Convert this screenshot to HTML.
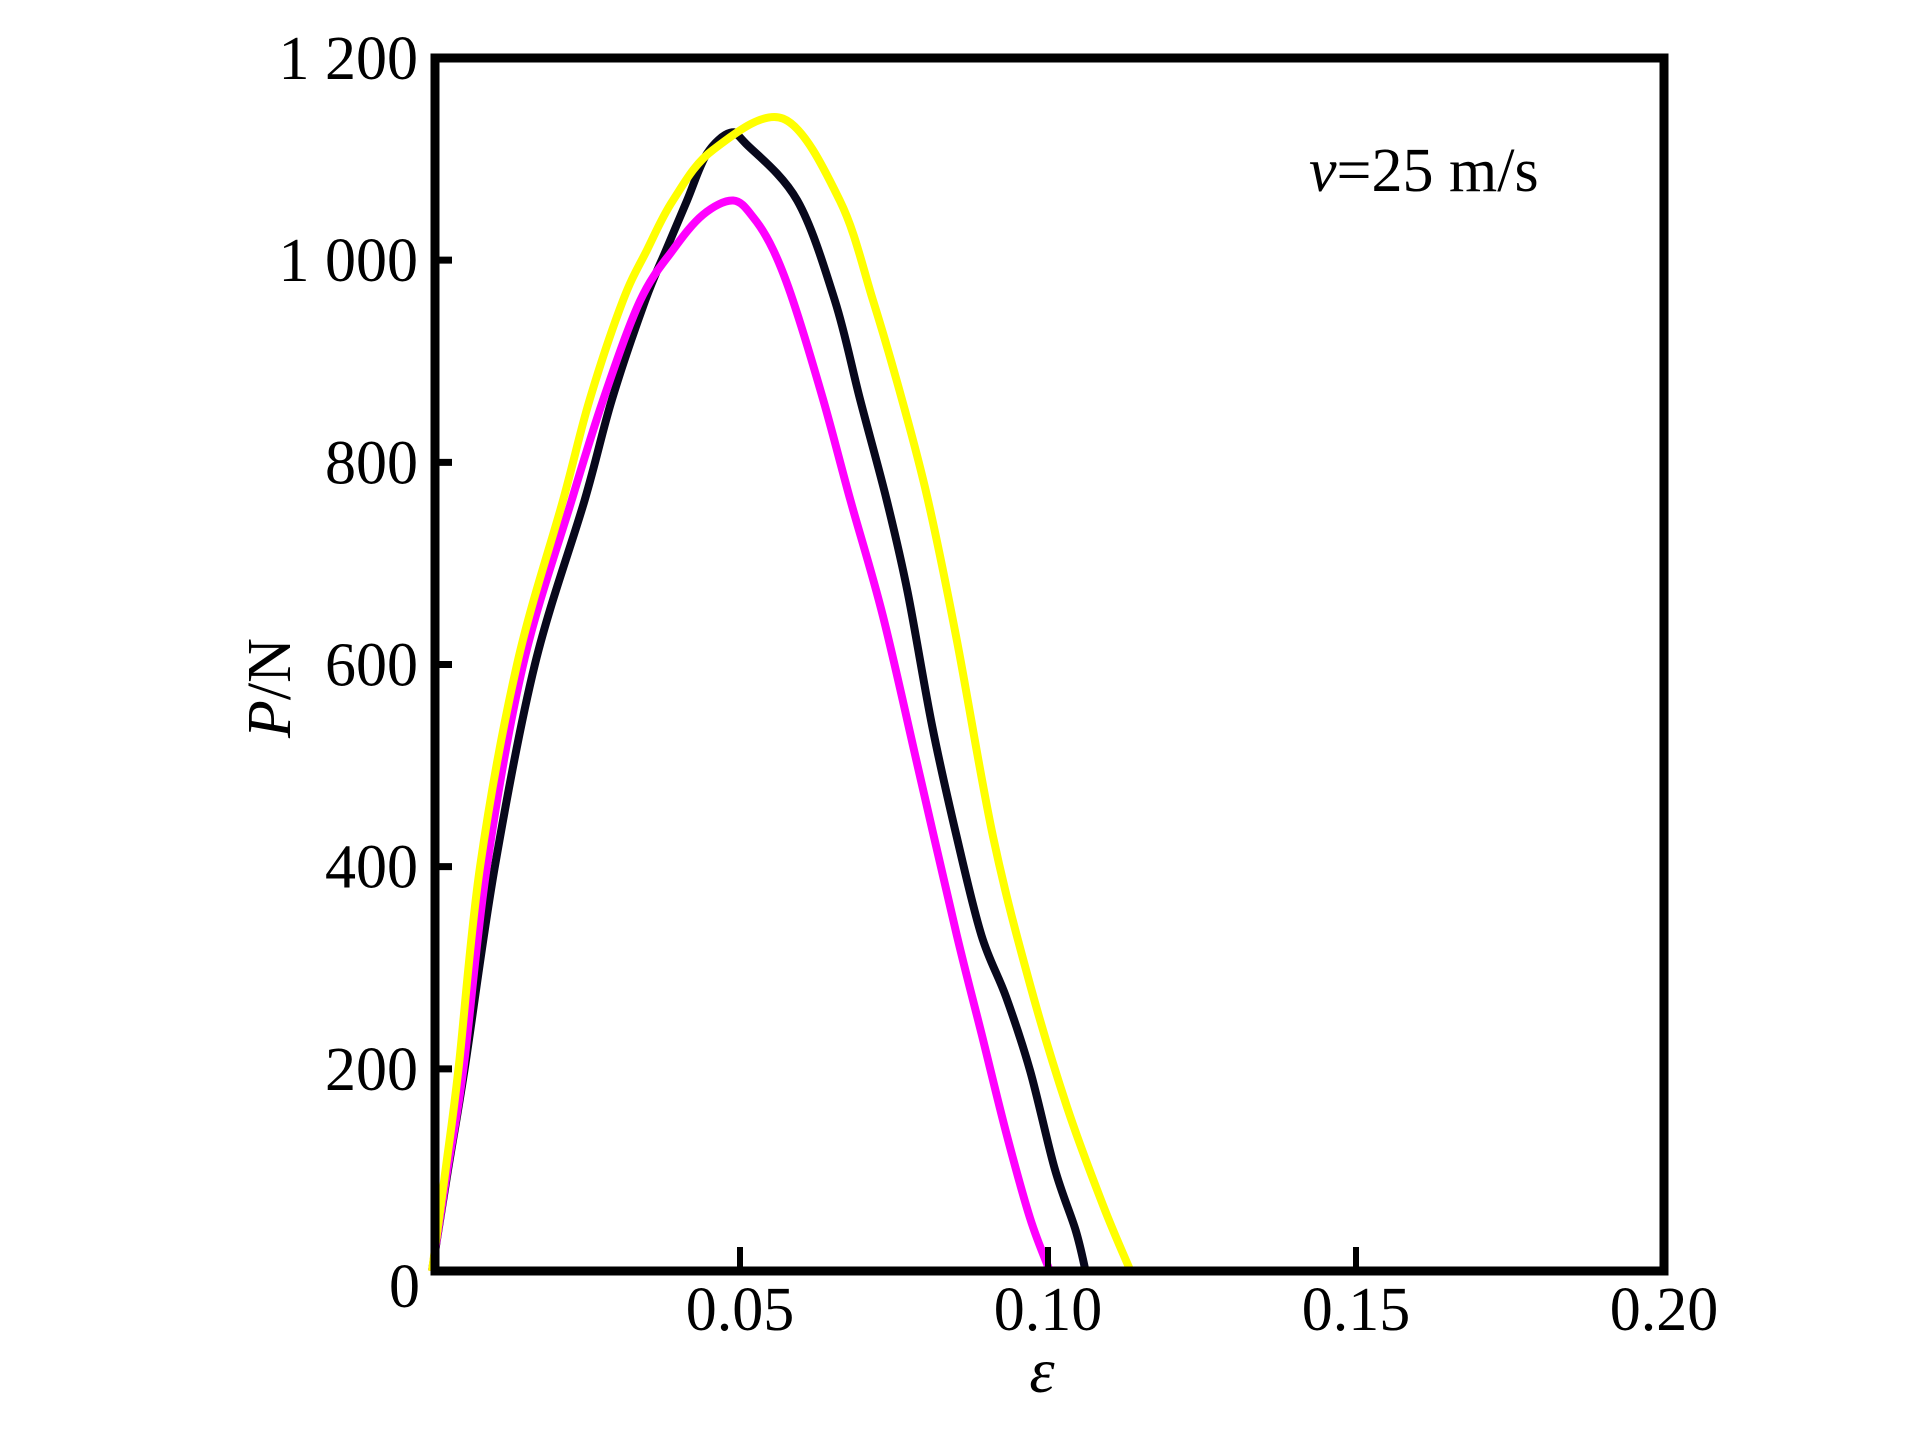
<!DOCTYPE html>
<html><head><meta charset="utf-8"><style>
html,body{margin:0;padding:0;background:#fff;}
svg{display:block;font-family:"Liberation Serif",serif;}
</style></head><body>
<svg id="chart" width="1923" height="1429" viewBox="0 0 1923 1429">
<g id="curves"></g>
<rect x="435" y="58" width="1229" height="1213" fill="none" stroke="#000" stroke-width="9"/>
<g id="ticks"></g>
<text x="1042" y="1392" font-size="64" font-style="italic" text-anchor="middle">ε</text>
<text transform="translate(290,688) rotate(-90)" font-size="62" text-anchor="middle"><tspan font-style="italic">P</tspan>/N</text>
<text x="1309" y="191" font-size="62"><tspan font-style="italic">v</tspan>=25 m/s</text>
</svg>
<script>
const xTicks=[0.05,0.10,0.15,0.20];
const xTickLabels=["0.05","0.10","0.15","0.20"];
const yTicks=[0,200,400,600,800,1000,1200];
const yTickLabels=["0","200","400","600","800","1 000","1 200"];
const blackX=[0,0.0026,0.0053,0.0102,0.0167,0.0248,0.0292,0.0346,0.0380,0.0414,0.0446,0.0484,0.0510,0.0593,0.0654,0.0695,0.0738,0.0772,0.0812,0.0852,0.0892,0.0932,0.0971,0.1011,0.1045,0.1061];
const blackP=[0,100,200,400,600,763,862,960,1010,1059,1105,1126,1115,1059,960,862,763,672,539,429,332,271,198,101,40,0];
const yellowX=[0,0.0022,0.0043,0.0078,0.0138,0.0213,0.0256,0.0310,0.0349,0.0391,0.0456,0.0570,0.0662,0.0716,0.0763,0.0805,0.0852,0.0911,0.0971,0.1031,0.1090,0.1134];
const yellowP=[0,100,200,400,600,763,862,960,1010,1059,1109,1140,1059,960,862,763,624,429,283,162,64,0];
const magentaX=[0,0.0025,0.0051,0.0089,0.0148,0.0227,0.0278,0.0338,0.0391,0.0440,0.0489,0.0522,0.0554,0.0586,0.0635,0.0679,0.0732,0.0792,0.0852,0.0892,0.0932,0.0971,0.1003];
const magentaP=[0,100,200,400,600,763,862,960,1010,1045,1059,1042,1010,960,862,763,648,490,332,235,137,52,0];

const NS="http://www.w3.org/2000/svg";
const X0=432,X1=1664,Y0=1271,Y1=58;
function sx(v){return X0+(v/0.2)*(X1-X0);}
function sy(v){return Y0-(v/1200)*(Y0-Y1);}
const curves=document.getElementById('curves');
function smoothPath(pts){
  let d='M'+pts[0][0]+','+pts[0][1];
  for(let i=0;i<pts.length-1;i++){
    const p0=pts[Math.max(0,i-1)],p1=pts[i],p2=pts[i+1],p3=pts[Math.min(pts.length-1,i+2)];
    const c1x=p1[0]+(p2[0]-p0[0])/6,c1y=p1[1]+(p2[1]-p0[1])/6;
    const c2x=p2[0]-(p3[0]-p1[0])/6,c2y=p2[1]-(p3[1]-p1[1])/6;
    d+=' C'+c1x+','+c1y+' '+c2x+','+c2y+' '+p2[0]+','+p2[1];
  }
  return d;
}
function draw(xs,ps,color,name){
  const pts=xs.map((x,i)=>[sx(x),sy(ps[i])]);
  const pl=document.createElementNS(NS,'path');
  pl.setAttribute('d',smoothPath(pts));
  pl.setAttribute('fill','none');pl.setAttribute('stroke',color);
  pl.setAttribute('stroke-width','8');pl.setAttribute('stroke-linejoin','round');
  
  
  curves.appendChild(pl);
}
draw(blackX,blackP,'#08081c','black-curve');
draw(magentaX,magentaP,'#ff00ff','magenta-curve');
draw(yellowX,yellowP,'#ffff00','yellow-curve');
const ticks=document.getElementById('ticks');
xTicks.forEach((t,i)=>{
  const x=sx(t);
  if(i<3){
    const l=document.createElementNS(NS,'line');
    l.setAttribute('x1',x);l.setAttribute('x2',x);l.setAttribute('y1',Y0);l.setAttribute('y2',Y0-24);
    l.setAttribute('stroke','#000');l.setAttribute('stroke-width','6');
    
    
    ticks.appendChild(l);
  }
  const tx=document.createElementNS(NS,'text');
  tx.setAttribute('x',x);tx.setAttribute('y',1330);tx.setAttribute('font-size','62');tx.setAttribute('text-anchor','middle');
  tx.textContent=xTickLabels[i];
  
  
  ticks.appendChild(tx);
});
yTicks.forEach((t,i)=>{
  const y=sy(t);
  if(t>0&&t<1200){
    const l=document.createElementNS(NS,'line');
    l.setAttribute('x1',X0);l.setAttribute('x2',X0+20);l.setAttribute('y1',y);l.setAttribute('y2',y);
    l.setAttribute('stroke','#000');l.setAttribute('stroke-width','7');
    
    
    ticks.appendChild(l);
  }
  const tx=document.createElementNS(NS,'text');
  tx.setAttribute('x',t===0?420:418);tx.setAttribute('y',t===0?1307:y+21);tx.setAttribute('font-size','62');tx.setAttribute('text-anchor','end');
  tx.textContent=yTickLabels[i];
  
  
  ticks.appendChild(tx);
});
</script>
</body></html>
